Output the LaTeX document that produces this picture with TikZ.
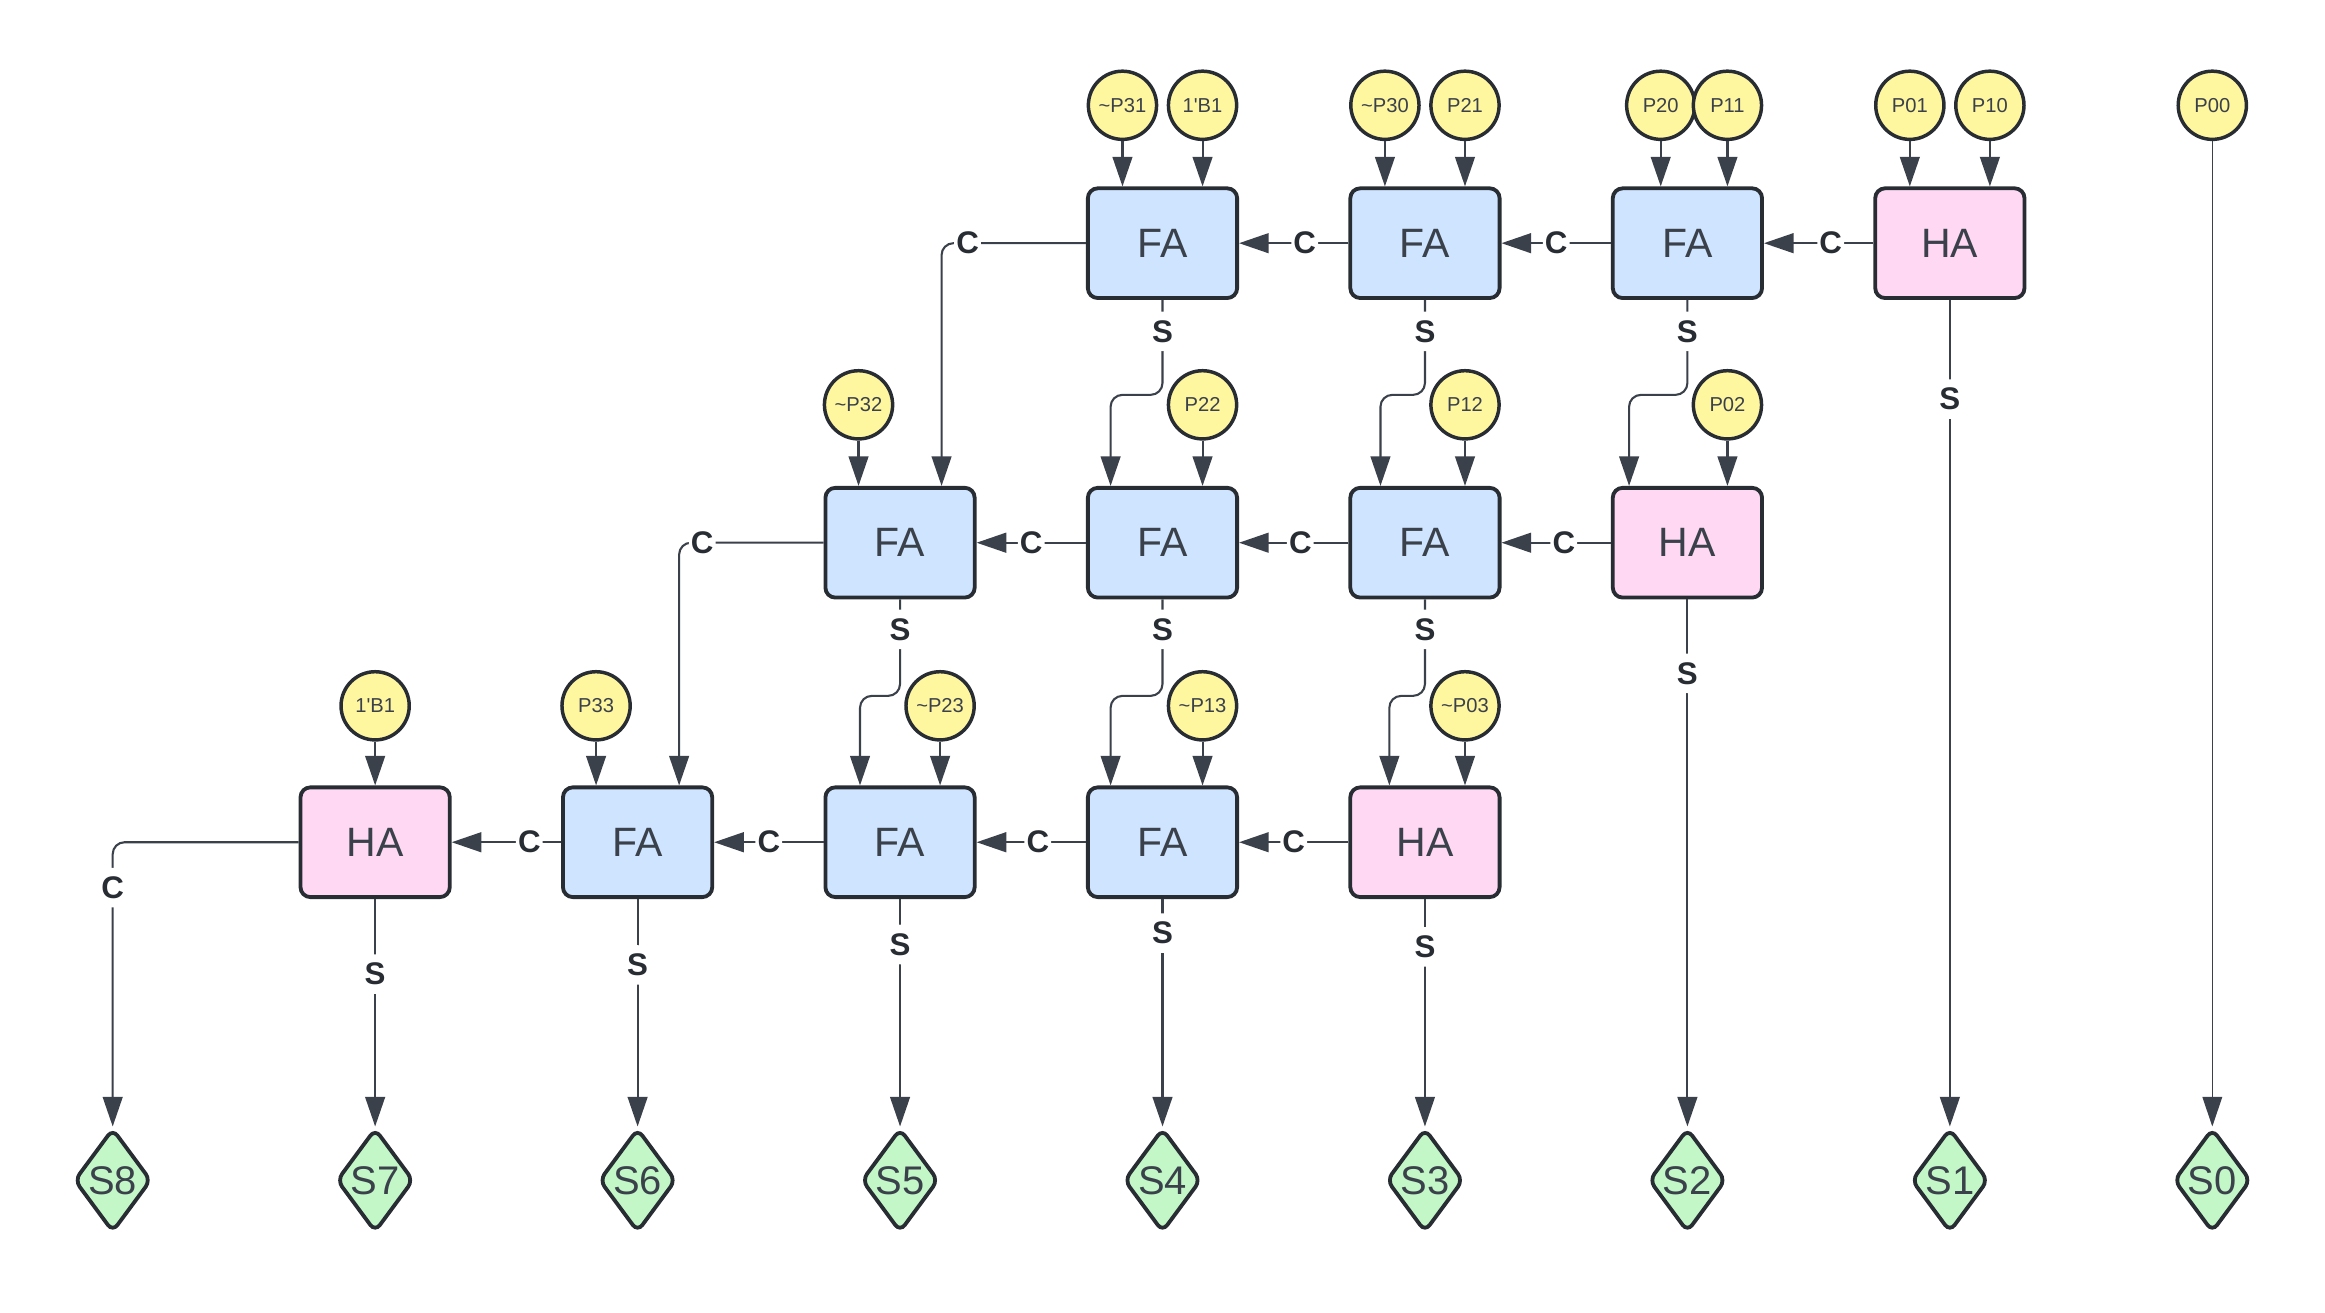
\documentclass[tikz,border=0pt]{standalone}
\usepackage{fontspec}
\setmainfont{Liberation Sans}
\usetikzlibrary{shapes.geometric,arrows.meta}

\definecolor{faBlue}{HTML}{CFE4FF}
\definecolor{haPink}{HTML}{FFD8F4}
\definecolor{inYellow}{HTML}{FFF6A0}
\definecolor{outGreen}{HTML}{C3F7C8}
\definecolor{edgeDark}{HTML}{282C33}
\definecolor{wireGray}{HTML}{3A414A}

\tikzset{
  adder/.style={draw=edgeDark, line width=1.1pt, rounded corners=0.1cm,
    minimum width=1.51cm, minimum height=1.11cm, text=wireGray,
    font=\fontsize{11.8}{13}\selectfont},
  fabox/.style={adder, fill=faBlue},
  habox/.style={adder, fill=haPink},
  bit/.style={circle, draw=edgeDark, line width=1pt, fill=inYellow,
    minimum size=0.69cm, inner sep=0pt, text=wireGray,
    font=\fontsize{5.8}{7}\selectfont},
  sumout/.style={diamond, draw=edgeDark, line width=1.1pt, fill=outGreen,
    rounded corners=0.08cm, minimum width=0.72cm, minimum height=1.05cm,
    inner sep=0pt, text=wireGray, font=\fontsize{11.5}{13}\selectfont},
  wire/.style={draw=wireGray, line width=0.6pt, rounded corners=0.12cm,
    -{Triangle[length=0.3cm,width=0.2cm]}},
  tag/.style={fill=white, inner xsep=0.6pt, inner ysep=2.5pt, text=edgeDark,
    font=\bfseries\fontsize{9}{10}\selectfont},
}

\begin{document}
\begin{tikzpicture}
    \useasboundingbox (0,0) rectangle (23.52,-13.275);

    % first row of adders
    \node[fabox] (r1c4) at (11.76,-2.46) {FA};
    \node[fabox] (r1c3) at (14.415,-2.46) {FA};
    \node[fabox] (r1c2) at (17.07,-2.46) {FA};
    \node[habox] (r1c1) at (19.725,-2.46) {HA};

    \node[bit] (np31) at (11.355,-1.065) {\textasciitilde P31};
    \node[bit] (bta) at (12.165,-1.065) {1\textquotesingle B1};
    \node[bit] (np30) at (14.01,-1.065) {\textasciitilde P30};
    \node[bit] (p21) at (14.82,-1.065) {P21};
    \node[bit] (p20) at (16.8,-1.065) {P20};
    \node[bit] (p11) at (17.475,-1.065) {P11};
    \node[bit] (p01) at (19.32,-1.065) {P01};
    \node[bit] (p10) at (20.13,-1.065) {P10};
    \node[bit] (p00) at (22.38,-1.065) {P00};

    % second row
    \node[fabox] (r2c5) at (9.105,-5.49) {FA};
    \node[fabox] (r2c4) at (11.76,-5.49) {FA};
    \node[fabox] (r2c3) at (14.415,-5.49) {FA};
    \node[habox] (r2c2) at (17.07,-5.49) {HA};

    \node[bit] (np32) at (8.685,-4.095) {\textasciitilde P32};
    \node[bit] (p22) at (12.165,-4.095) {P22};
    \node[bit] (p12) at (14.82,-4.095) {P12};
    \node[bit] (p02) at (17.475,-4.095) {P02};

    % third row
    \node[habox] (r3c7) at (3.795,-8.52) {HA};
    \node[fabox] (r3c6) at (6.45,-8.52) {FA};
    \node[fabox] (r3c5) at (9.105,-8.52) {FA};
    \node[fabox] (r3c4) at (11.76,-8.52) {FA};
    \node[habox] (r3c3) at (14.415,-8.52) {HA};

    \node[bit] (btb) at (3.795,-7.14) {1\textquotesingle B1};
    \node[bit] (p33) at (6.03,-7.14) {P33};
    \node[bit] (np23) at (9.51,-7.14) {\textasciitilde P23};
    \node[bit] (np13) at (12.165,-7.14) {\textasciitilde P13};
    \node[bit] (np03) at (14.82,-7.14) {\textasciitilde P03};

    % product bits
    \foreach \k in {0,...,8}
        \node[sumout] (s\k) at ({22.38-2.655*\k},-11.94) {S\k};

    % inputs
    \foreach \b/\t in {np31/r1c4,bta/r1c4,np30/r1c3,p21/r1c3,p20/r1c2,p11/r1c2,
                       p01/r1c1,p10/r1c1,np32/r2c5,p22/r2c4,p12/r2c3,p02/r2c2,
                       btb/r3c7,p33/r3c6,np23/r3c5,np13/r3c4,np03/r3c3}
        \draw[wire] (\b) -- (\b |- \t.north);

    % carries
    \draw[wire] (r1c3.west) -- node[tag,pos=0.4] {C} (r1c4.east);
    \draw[wire] (r1c2.west) -- node[tag,pos=0.5] {C} (r1c3.east);
    \draw[wire] (r1c1.west) -- node[tag,pos=0.39] {C} (r1c2.east);
    \draw[wire] (r2c4.west) -- node[tag,pos=0.5] {C} (r2c5.east);
    \draw[wire] (r2c3.west) -- node[tag,pos=0.44] {C} (r2c4.east);
    \draw[wire] (r2c2.west) -- node[tag,pos=0.43] {C} (r2c3.east);
    \draw[wire] (r3c6.west) -- node[tag,pos=0.29] {C} (r3c7.east);
    \draw[wire] (r3c5.west) -- node[tag,pos=0.5] {C} (r3c6.east);
    \draw[wire] (r3c4.west) -- node[tag,pos=0.44] {C} (r3c5.east);
    \draw[wire] (r3c3.west) -- node[tag,pos=0.5] {C} (r3c4.east);

    \draw[wire] (r1c4.west) -| node[tag,pos=0.41] {C} ([xshift=0.42cm]r2c5.north);
    \draw[wire] (r2c5.west) -| node[tag,pos=0.42] {C} ([xshift=0.42cm]r3c6.north);
    \draw[wire] (r3c7.west) -| node[tag,pos=0.58] {C} (s8.north);

    % sums down to the next row
    \draw[wire] (r1c4.south) -- node[tag,pos=0.33] {S} ++(0,-0.96)
        -| ([xshift=-0.525cm]r2c4.north);
    \draw[wire] (r1c3.south) -- node[tag,pos=0.33] {S} ++(0,-0.96)
        -| ([xshift=-0.45cm]r2c3.north);
    \draw[wire] (r1c2.south) -- node[tag,pos=0.33] {S} ++(0,-0.96)
        -| ([xshift=-0.59cm]r2c2.north);
    \draw[wire] (r2c5.south) -- node[tag,pos=0.31] {S} ++(0,-0.975)
        -| ([xshift=-0.405cm]r3c5.north);
    \draw[wire] (r2c4.south) -- node[tag,pos=0.31] {S} ++(0,-0.975)
        -| ([xshift=-0.525cm]r3c4.north);
    \draw[wire] (r2c3.south) -- node[tag,pos=0.31] {S} ++(0,-0.975)
        -| ([xshift=-0.36cm]r3c3.north);

    % sums out
    \draw[wire] (r3c7.south) -- node[tag,pos=0.33] {S} (r3c7.south |- s7.north);
    \draw[wire] (r3c6.south) -- node[tag,pos=0.29] {S} (r3c6.south |- s6.north);
    \draw[wire] (r3c5.south) -- node[tag,pos=0.2] {S} (r3c5.south |- s5.north);
    \draw[wire] (r3c4.south) -- node[tag,pos=0.15] {S} (r3c4.south |- s4.north);
    \draw[wire] (r3c3.south) -- node[tag,pos=0.21] {S} (r3c3.south |- s3.north);
    \draw[wire] (r2c2.south) -- node[tag,pos=0.14] {S} (r2c2.south |- s2.north);
    \draw[wire] (r1c1.south) -- node[tag,pos=0.12] {S} (r1c1.south |- s1.north);
    \draw[wire,line width=0.35pt] (p00) -- (s0.north);
\end{tikzpicture}
\end{document}
